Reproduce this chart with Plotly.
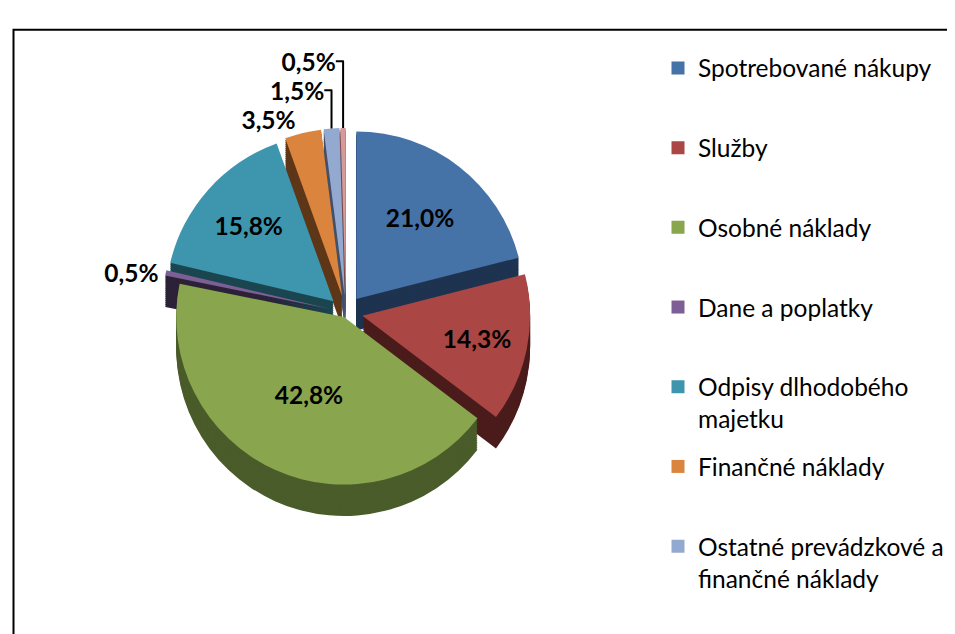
import plotly.graph_objects as go

categories = ["Spotrebované nákupy", "Služby", "Osobné náklady", "Dane a poplatky",
              "Odpisy dlhodobého majetku", "Finančné náklady",
              "Ostatné prevádzkové a finančné náklady", "Ostatné"]
values = [21.0, 14.3, 42.8, 0.5, 15.8, 3.5, 1.5, 0.5]
legend_labels = ["Spotrebované nákupy", "Služby", "Osobné náklady", "Dane a poplatky",
                 "Odpisy dlhodobého<br>majetku", "Finančné náklady",
                 "Ostatné prevádzkové a<br>finančné náklady"]
colors = ["#4572A7", "#AA4643", "#89A54E", "#7D5F95", "#3D96AE", "#DB843D", "#93A9CF", "#D69A98"]
side_colors = ["#1E3350", "#4A1C1B", "#4A5C2A", "#2C2238", "#1B4650", "#5E3718", "#44506A", "#7A4A49"]
text_pos = ["inside", "inside", "inside", "outside", "inside", "outside", "outside", "outside"]
pulls = [0.1, 0.1, 0.03, 0.1, 0.1, 0.1, 0.1, 0.1]

labels_txt = [f"{v:.1f}%".replace(".", ",") for v in values]

FS = 24.5
cx, cy, half = 338, 298, 188
depth = 32

def dom(yc):
    return dict(x=[(cx - half) / 955, (cx + half) / 955],
                y=[1 - (yc + half) / 634, 1 - (yc - half) / 634])

fig = go.Figure()
# side walls (depth) of the 3D pie
for k in range(depth, 0, -2):
    fig.add_trace(go.Pie(
        labels=categories, values=values, sort=False, direction="clockwise", rotation=0,
        marker=dict(colors=side_colors, line=dict(width=0)),
        pull=pulls, textinfo="none", hoverinfo="skip",
        domain=dom(cy + k), showlegend=False,
    ))
fig.add_trace(go.Pie(
    labels=categories, values=values, sort=False, direction="clockwise", rotation=0,
    marker=dict(colors=colors, line=dict(width=0)),
    pull=pulls,
    text=labels_txt, textinfo="text", textposition=text_pos,
    insidetextorientation="horizontal",
    textfont=dict(family="Lato", size=FS, color="black", weight="bold"),
    domain=dom(cy),
    showlegend=False, hoverinfo="label+percent",
))

for i, (lab, col) in enumerate(zip(legend_labels, colors)):
    name = lab if "<br>" in lab else lab + "<br> "
    fig.add_trace(go.Scatter(x=[None], y=[None], mode="markers", name=name,
                             legendgroup=f"g{i}",
                             marker=dict(symbol="square", size=13, color=col)))

fig.update_layout(
    width=955, height=634, margin=dict(l=0, r=0, t=0, b=0),
    paper_bgcolor="white", plot_bgcolor="white",
    font=dict(family="Lato", size=FS, color="black"),
    xaxis=dict(visible=False), yaxis=dict(visible=False),
    legend=dict(x=650 / 955, y=1 - 26 / 634, xanchor="left", yanchor="top",
                tracegroupgap=13, bgcolor="rgba(0,0,0,0)", valign="top"),
    shapes=[dict(type="rect", xref="paper", yref="paper",
                 x0=5.5 / 955, x1=1.05, y0=-0.05, y1=1 - 10 / 634,
                 line=dict(color="black", width=2))],
)

fig.write_html("out.html")
